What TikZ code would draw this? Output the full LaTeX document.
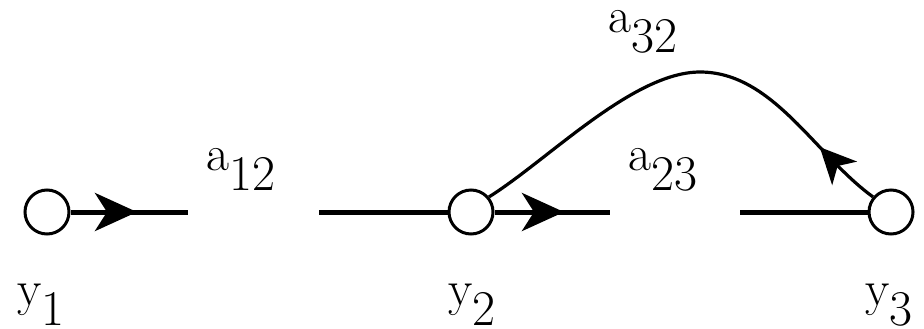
\documentclass[tikz,border=0pt]{standalone}
\usetikzlibrary{arrows.meta,decorations.markings}
\begin{document}
\begin{tikzpicture}[x=0.5pt,y=0.5pt,
  vtx/.style={circle,draw,line width=1.5pt,minimum size=22pt,inner sep=0pt},
  edgeline/.style={line width=2.5pt},
  curveline/.style={line width=1.6pt},
  lbl/.style={anchor=base west,inner sep=0pt,font=\rmfamily\fontsize{25}{30}\selectfont},
  arrowmid/.style={postaction={decorate},decoration={markings,mark=at position #1 with {\arrow{Stealth[length=21pt,width=19pt,inset=6pt]}}}},
  arrowcurve/.style={postaction={decorate},decoration={markings,mark=at position #1 with {\arrow{Stealth[length=18pt,width=17pt,inset=5pt]}}}},
]
\useasboundingbox (0,0) rectangle (924,328);
\node[vtx] (y1) at (47,116) {};
\node[vtx] (y2) at (471,116) {};
\node[vtx] (y3) at (891,116) {};
\coordinate (e1) at (188,116);
\coordinate (s1) at (319,116);
\coordinate (e2) at (610,116);
\coordinate (s2) at (740,116);
\coordinate (peak) at (700,256);
\draw[edgeline,arrowmid=33.25pt] (y1) -- (e1);
\draw[edgeline] (s1) -- (y2);
\draw[edgeline,arrowmid=34.75pt] (y2) -- (e2);
\draw[edgeline] (s2) -- (y3);
\draw[curveline,arrowcurve=36.5pt] (y3.140) .. controls (815,173) and (773,256) .. (peak) .. controls (633,256) and (548,168) .. (y2.40);
\node[lbl] (l12) at (206,158) {a\raisebox{-10pt}{12}};
\node[lbl] (l23) at (628,158) {a\raisebox{-10pt}{23}};
\node[lbl] (l32) at (608,296) {a\raisebox{-10pt}{32}};
\node[lbl] (ly1) at (17,23) {y\raisebox{-10pt}{1}};
\node[lbl] (ly2) at (448,23) {y\raisebox{-10pt}{2}};
\node[lbl] (ly3) at (865,23) {y\raisebox{-10pt}{3}};
\end{tikzpicture}
\end{document}
